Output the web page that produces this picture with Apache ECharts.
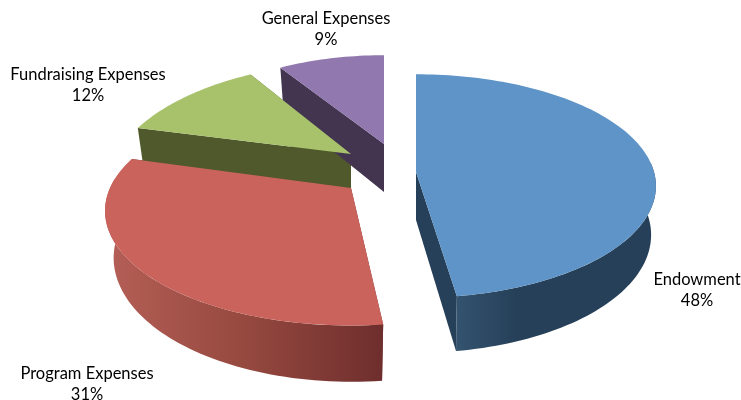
<!DOCTYPE html>
<html>
<head>
<meta charset="utf-8">
<style>html,body{margin:0;padding:0;background:#fff}#c{width:741px;height:400px}</style>
<script src="https://cdn.jsdelivr.net/npm/echarts@6/dist/echarts.min.js"></script>
</head>
<body>
<div id="c"></div>
<script>
// Data, clockwise from 12 o'clock
var categories = ['Endowment', 'Program Expenses', 'Fundraising Expenses', 'General Expenses'];
var values = [47.6, 31.2, 12.2, 9.0];

// Layout: apex x, apex y, radius x, radius y, perspective, depth, bottom shrink, angle offset
var layouts = [
  [416, 172, 238, 110, 0.126, 48, 0.98, 0],
  [351, 188, 241, 110, 0.2, 45, 0.965, 2.5],
  [351, 154, 235, 118, 0.3, 48, 0.97, 0],
  [384, 144, 214, 100, 0.126, 48, 0.97, 0]
];
var topColors = ['#5E94C8', '#C9635C', '#A8C26C', '#9178AF'];
var cutColors = ['#264059', '#6F2F2E', '#50592B', '#433450'];
var wallStops = [
  [[0, '#34536F'], [0.3, '#264059'], [1, '#264059']],
  [[0, '#B55F57'], [0.5, '#96493F'], [1, '#6E2E2D']],
  [[0, '#50592B'], [1, '#50592B']],
  [[0, '#433450'], [1, '#433450']]
];
var labelPos = [[697, 290], [87, 384], [88, 85], [326, 29]];

var total = values.reduce(function (a, b) { return a + b; }, 0);
var starts = [], acc = 0;
values.forEach(function (v) { starts.push(acc / total * 360); acc += v; });

function pt(L, deg, bottom) {
  var a = deg * Math.PI / 180, X = Math.sin(a), Y = -Math.cos(a);
  var s = 1 / (1 - L[4] * Y);
  var k = bottom ? L[6] : 1;
  return [L[0] + L[2] * X * s * k, L[1] + L[3] * Y * s + (bottom ? L[5] * s : 0)];
}
function apex(L, bottom) { return [L[0], L[1] + (bottom ? L[5] : 0)]; }
function arc(L, a0, a1, bottom) {
  var r = [], n = Math.max(2, Math.ceil(Math.abs(a1 - a0) / 1.5));
  for (var i = 0; i <= n; i++) r.push(pt(L, a0 + (a1 - a0) * i / n, bottom));
  return r;
}
function poly(points, fill, z) {
  return { type: 'polygon', z2: z, shape: { points: points }, style: { fill: fill, stroke: null } };
}

function renderItem(params, api) {
  var i = params.dataIndex, L = layouts[i];
  var a0 = starts[i] + L[7], a1 = a0 + values[i] / total * 360;
  var kids = [];
  // cut faces
  [a0, a1].forEach(function (a) {
    kids.push(poly([apex(L), pt(L, a), pt(L, a, true), apex(L, true)], cutColors[i], 1));
  });
  // outer wall (front half only)
  var w0 = Math.max(a0, 85), w1 = Math.min(a1, 275);
  if (w1 > w0) {
    var pts = arc(L, w0, w1).concat(arc(L, w1, w0, true));
    kids.push(poly(pts, new echarts.graphic.LinearGradient(0, 0, 1, 0,
      wallStops[i].map(function (s) { return { offset: s[0], color: s[1] }; })), 2));
  }
  // top face
  kids.push(poly([apex(L)].concat(arc(L, a0, a1)), topColors[i], 3));
  // label
  kids.push({
    type: 'text', z2: 10,
    style: {
      x: labelPos[i][0], y: labelPos[i][1],
      text: categories[i] + '\n' + Math.round(values[i] / total * 100) + '%',
      fill: '#000', font: '16.5px Lato', lineHeight: 21,
      align: 'center', verticalAlign: 'middle'
    }
  });
  return { type: 'group', children: kids };
}

var chart = echarts.init(document.getElementById('c'), null, { renderer: 'canvas' });
chart.setOption({
  animation: false,
  backgroundColor: '#fff',
  series: [{
    type: 'custom',
    coordinateSystem: 'none',
    renderItem: renderItem,
    silent: true,
    data: categories.map(function (c, i) { return { name: c, value: values[i] }; })
  }]
});
</script>
</body>
</html>
